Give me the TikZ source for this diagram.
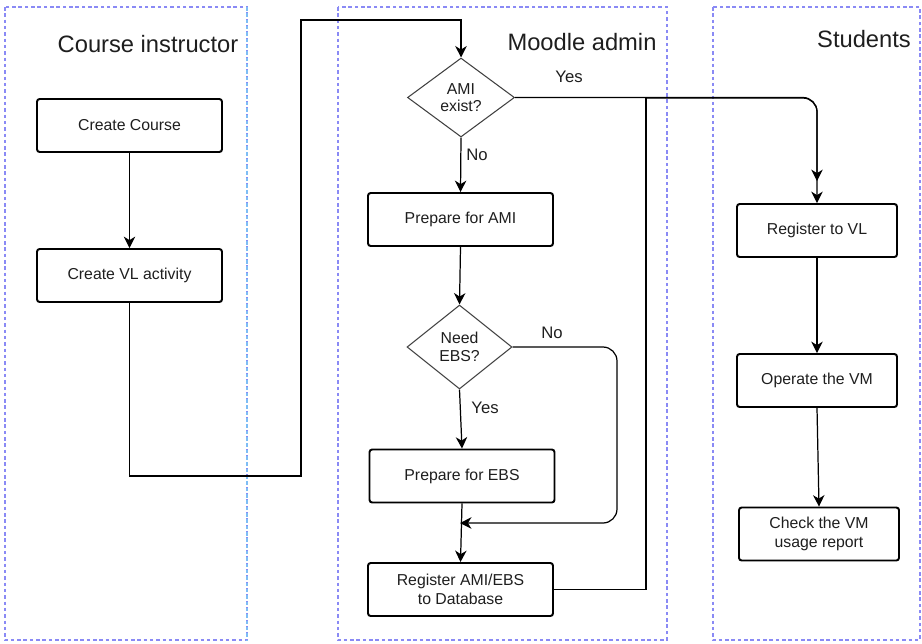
\documentclass[tikz,border=0pt]{standalone}
\usepackage{fontspec}
\setmainfont{Liberation Sans}
\usetikzlibrary{arrows.meta,shapes.geometric}

\definecolor{lanec}{HTML}{8A8AF5}
\definecolor{skyc}{HTML}{7DBDF5}
\definecolor{textc}{HTML}{1E1E1E}

\tikzset{
  lane/.style={draw=lanec, dash pattern=on 2pt off 1.6pt, line width=0.6pt},
  lanetitle/.style={font=\fontsize{13.5}{16}\selectfont, text=textc},
  task/.style={draw, rounded corners=1.5pt, line width=1.1pt, minimum width=3.7cm,
    minimum height=1.06cm, align=center, text=textc, font=\fontsize{9}{11}\selectfont},
  ask/.style={draw=black!75, diamond, inner sep=0pt, line width=0.6pt, align=center,
    text=textc, font=\fontsize{9}{10}\selectfont},
  flow/.style={-{Stealth[length=6.5pt,width=6.5pt,inset=2pt]}, line width=0.7pt},
  lbl/.style={text=textc, font=\fontsize{9.5}{11}\selectfont}
}

\begin{document}
\begin{tikzpicture}[x=0.02cm,y=-0.02cm]
    \useasboundingbox (0,0) rectangle (922,643);
    % swimlanes
    \draw[lane] (5,7) rectangle (247,640);
    \draw[lane,draw=skyc] (247,7) -- (247,640);
    \draw[lane] (338,7) rectangle (667,640);
    \draw[lane] (713,7) rectangle (920,640);
    \node[lanetitle] (tInst) at (148,44) {Course instructor};
    \node[lanetitle] (tAdm) at (582,42) {Moodle admin};
    \node[lanetitle] (tStu) at (864,39) {Students};

    % instructor
    \node[task] (course) at (129.5,125.5) {Create Course};
    \node[task] (act) at (129.5,275.5) {Create VL activity};
    % admin
    \node[ask,minimum width=2.14cm,minimum height=1.58cm] (ami) at (461,97.5) {AMI\\exist?};
    \node[task] (prepAmi) at (460.5,219.5) {Prepare for AMI};
    \node[ask,minimum width=2.1cm,minimum height=1.68cm] (ebs) at (459.5,347) {Need\\EBS?};
    \node[task] (prepEbs) at (462,476) {Prepare for EBS};
    \node[task] (reg) at (460.5,589.5) {Register AMI/EBS\\to Database};
    % students
    \node[task,minimum width=3.2cm] (regVl) at (817,230.5) {Register to VL};
    \node[task,minimum width=3.2cm] (vm) at (817,380.5) {Operate the VM};
    \node[task,minimum width=3.2cm] (report) at (819,534) {Check the VM\\usage report};

    \coordinate (low) at (301,476);
    \coordinate (high) at (301,20);
    \coordinate (noBend) at (617,523);
    \coordinate (merge) at (460,523);
    \coordinate (back) at (646,98);

    \path[flow] (course) edge (act);
    \draw[flow] (act.south) |- (low) -- (high) -| (ami.north);
    \draw[flow,rounded corners=8pt] (ami.east) -| (regVl.north);
    \path[flow] (ami.south) edge (prepAmi.north);
    \path[flow] (prepAmi.south) edge (ebs.north);
    \path[flow] (ebs.south) edge (prepEbs.north);
    \draw[flow,rounded corners=8pt] (ebs.east) -| (noBend) -- (merge);
    \path[flow] (prepEbs.south) edge (reg.north);
    % registered image goes back to the students
    \draw[line width=0.7pt] (reg.east) -| (back);
    \draw[flow,rounded corners=8pt,shorten >=0.44cm] (back) -| (regVl.north);
    \path[flow] (regVl) edge (vm);
    \path[flow] (vm.south) edge (report.north);

    \node[lbl] (yesAmi) at (569,77) {Yes};
    \node[lbl] (noAmi) at (477,155) {No};
    \node[lbl] (noEbs) at (552,333) {No};
    \node[lbl] (yesEbs) at (485,408) {Yes};
\end{tikzpicture}
\end{document}
